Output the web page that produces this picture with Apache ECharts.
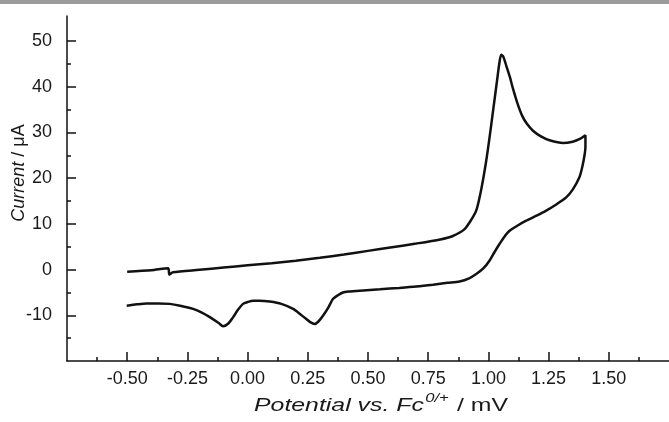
<!DOCTYPE html>
<html>
<head>
<meta charset="utf-8">
<script src="https://cdn.jsdelivr.net/npm/echarts@6/dist/echarts.min.js"></script>
<style>
html,body{margin:0;padding:0;background:#fff;}
#chart{width:669px;height:422px;}
</style>
</head>
<body>
<div id="chart"></div>
<script>
// Cyclic voltammogram (scan order)
var potential = [
  -0.50,-0.40,-0.33,-0.325,-0.31,-0.20,-0.10,0.00,0.10,0.20,0.30,0.40,0.50,0.60,0.70,0.80,0.85,0.90,0.93,0.95,0.97,0.99,1.005,1.02,1.035,1.045,1.053,1.062,1.075,1.09,1.10,1.12,1.14,1.16,1.185,1.22,1.254,1.31,1.35,1.38,1.403,
  1.403,1.40,1.39,1.378,1.35,1.323,1.28,1.24,1.20,1.157,1.12,1.088,1.065,1.046,1.025,1.005,0.98,0.951,0.92,0.88,0.83,0.77,0.70,0.63,0.55,0.466,0.42,0.396,0.375,0.355,0.335,0.313,0.295,0.279,0.26,0.244,0.22,0.189,0.14,0.092,0.05,0.023,0.00,-0.019,-0.04,-0.06,-0.08,-0.102,-0.12,-0.157,-0.19,-0.226,-0.28,-0.323,-0.37,-0.42,-0.46,-0.502
];
var current = [
  -0.45,-0.15,0.3,-1.1,-0.6,-0.05,0.45,0.95,1.4,1.95,2.6,3.3,4.1,4.9,5.7,6.6,7.3,8.8,11,13,17.5,23.5,29,35,41,45,47,46.6,44.5,42,40,36.5,33.7,31.9,30.4,29.1,28.3,27.7,28.0,28.6,29.4,
  27,25.3,22.5,20.2,17.5,15.8,14.2,12.9,11.8,10.7,9.6,8.5,7.1,5.6,3.8,2.0,0.3,-0.9,-1.9,-2.6,-2.9,-3.3,-3.7,-4.0,-4.3,-4.6,-4.8,-5.0,-5.6,-6.4,-8.3,-10.1,-11.3,-11.9,-11.5,-10.8,-9.8,-8.6,-7.5,-7.0,-6.8,-6.8,-7.1,-7.5,-8.8,-10.4,-11.8,-12.4,-11.7,-10.4,-9.4,-8.6,-7.9,-7.5,-7.4,-7.4,-7.6,-7.9
];
var xTickLabels = [-0.50,-0.25,0.00,0.25,0.50,0.75,1.00,1.25,1.50];
var xMinorTicks = [-0.625,-0.375,-0.125,0.125,0.375,0.625,0.875,1.125,1.375,1.625];
var yTickLabels = [-10,0,10,20,30,40,50];
var yMinorTicks = [-15,-5,5,15,25,35,45];

var data = potential.map(function(p,i){return [p, current[i]];});

var X_MIN=-0.75, X_MAX=1.75, Y_MIN=-20, Y_MAX=55.5;
var axisColor='#111', textColor='#1a1a1a', font='Liberation Sans';

function tickAxis(kind, values, len){
  return {
    type:'value',min:kind==='x'?X_MIN:Y_MIN,max:kind==='x'?X_MAX:Y_MAX,
    position:kind==='x'?'bottom':'left',
    axisLine:{show:false,onZero:false},
    axisTick:{show:true,inside:true,length:len,customValues:values,lineStyle:{color:axisColor,width:1.5}},
    axisLabel:{show:false},
    splitLine:{show:false}
  };
}

var chart = echarts.init(document.getElementById('chart'), null, {renderer:'canvas'});
chart.setOption({
  backgroundColor:'#fff',
  animation:false,
  grid:{left:67,right:0,top:16,bottom:61,containLabel:false},
  xAxis:[{
    type:'value',min:X_MIN,max:X_MAX,position:'bottom',
    axisLine:{show:true,onZero:false,lineStyle:{color:axisColor,width:1.5}},
    axisTick:{show:false},
    axisLabel:{show:true,customValues:xTickLabels,margin:9,color:textColor,fontFamily:font,fontSize:18,
      formatter:function(v){return v.toFixed(2);}},
    splitLine:{show:false}
  }, tickAxis('x', xTickLabels, 9), tickAxis('x', xMinorTicks, 4)],
  yAxis:[{
    type:'value',min:Y_MIN,max:Y_MAX,position:'left',
    axisLine:{show:true,onZero:false,lineStyle:{color:axisColor,width:1.5}},
    axisTick:{show:false},
    axisLabel:{show:true,customValues:yTickLabels,margin:15,color:textColor,fontFamily:font,fontSize:18},
    splitLine:{show:false}
  }, tickAxis('y', yTickLabels, 9), tickAxis('y', yMinorTicks, 4)],
  graphic:[
    {type:'rect',shape:{x:0,y:0,width:669,height:4},style:{fill:'#9b9b9b'},silent:true},
    {type:'text',x:381,y:404,scaleX:1.38,silent:true,
     style:{
       text:'{i|Potential vs. Fc}{s|0/+}{n| / mV}',
       textAlign:'center',textVerticalAlign:'middle',
       rich:{
         i:{fontFamily:font,fontSize:18,fontStyle:'italic',fill:textColor,verticalAlign:'bottom',lineHeight:22},
         s:{fontFamily:font,fontSize:12,fontStyle:'italic',fill:textColor,verticalAlign:'bottom',padding:[0,1,10,1],lineHeight:22},
         n:{fontFamily:font,fontSize:18,fill:textColor,verticalAlign:'bottom',lineHeight:22}
       }
     }},
    {type:'text',x:19,y:173,rotation:Math.PI/2,silent:true,
     style:{
       text:'{i|Current}{n| / μA}',
       textAlign:'center',textVerticalAlign:'middle',
       rich:{
         i:{fontFamily:font,fontSize:18,fontStyle:'italic',fill:textColor},
         n:{fontFamily:font,fontSize:18,fill:textColor}
       }
     }}
  ],
  series:[{
    type:'line',
    xAxisIndex:0,yAxisIndex:0,
    data:data,
    showSymbol:false,
    smooth:0.25,
    lineStyle:{color:'#111',width:2.5},
    clip:true
  }]
});
</script>
</body>
</html>
